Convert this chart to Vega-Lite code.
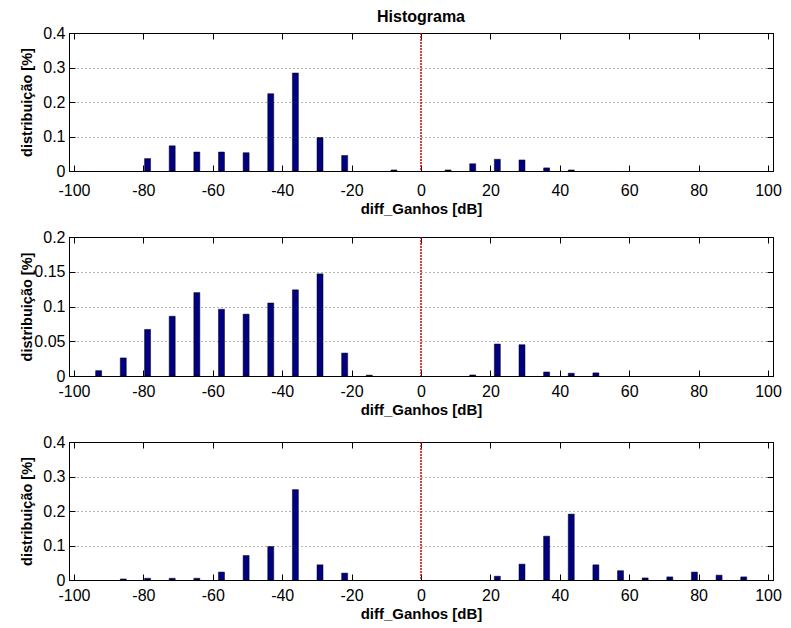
{
  "$schema": "https://vega.github.io/schema/vega-lite/v6.json",
  "autosize": {"type": "pad"},
  "padding": {"left": 18, "top": 8, "right": 12, "bottom": 6},
  "background": "white",
  "spacing": 66,
  "bounds": "flush",
  "datasets": {
    "h1": [
      {"x": -78.8, "p": 0.036}, {"x": -71.7, "p": 0.073}, {"x": -64.6, "p": 0.055}, {"x": -57.5, "p": 0.055},
      {"x": -50.4, "p": 0.053}, {"x": -43.3, "p": 0.224}, {"x": -36.2, "p": 0.284}, {"x": -29.1, "p": 0.097},
      {"x": -22.0, "p": 0.045}, {"x": -7.8, "p": 0.003}, {"x": 7.8, "p": 0.003}, {"x": 14.9, "p": 0.021},
      {"x": 22.0, "p": 0.034}, {"x": 29.1, "p": 0.032}, {"x": 36.2, "p": 0.009}, {"x": 43.3, "p": 0.003}
    ],
    "h2": [
      {"x": -92.9, "p": 0.0077}, {"x": -85.8, "p": 0.026}, {"x": -78.8, "p": 0.067}, {"x": -71.7, "p": 0.086},
      {"x": -64.6, "p": 0.120}, {"x": -57.5, "p": 0.096}, {"x": -50.4, "p": 0.089}, {"x": -43.3, "p": 0.105},
      {"x": -36.2, "p": 0.124}, {"x": -29.1, "p": 0.147}, {"x": -22.0, "p": 0.033}, {"x": -14.9, "p": 0.0012},
      {"x": 14.9, "p": 0.0015}, {"x": 22.0, "p": 0.046}, {"x": 29.1, "p": 0.045}, {"x": 36.2, "p": 0.0058},
      {"x": 43.3, "p": 0.004}, {"x": 50.4, "p": 0.0045}
    ],
    "h3": [
      {"x": -85.8, "p": 0.003}, {"x": -78.8, "p": 0.005}, {"x": -71.7, "p": 0.005}, {"x": -64.6, "p": 0.005},
      {"x": -57.5, "p": 0.023}, {"x": -50.4, "p": 0.071}, {"x": -43.3, "p": 0.097}, {"x": -36.2, "p": 0.262},
      {"x": -29.1, "p": 0.044}, {"x": -22.0, "p": 0.020}, {"x": 22.0, "p": 0.011}, {"x": 29.1, "p": 0.046},
      {"x": 36.2, "p": 0.127}, {"x": 43.3, "p": 0.191}, {"x": 50.4, "p": 0.044}, {"x": 57.5, "p": 0.027},
      {"x": 64.6, "p": 0.006}, {"x": 71.7, "p": 0.009}, {"x": 78.8, "p": 0.023}, {"x": 85.9, "p": 0.014},
      {"x": 93.0, "p": 0.009}
    ]
  },
  "vconcat": [
    {
      "width": 704, "height": 138,
      "title": {"text": "Histograma", "fontSize": 16, "fontWeight": "bold", "font": "Liberation Sans", "color": "black", "anchor": "middle", "frame": "group", "baseline": "alphabetic", "offset": -13},
      "layer": [
        {
          "data": {"name": "h1"},
          "mark": {"type": "bar", "orient": "vertical", "size": 6, "fill": "#000080", "stroke": "#000000", "strokeWidth": 0.5},
          "encoding": {
            "x": {"field": "x", "type": "quantitative", "scale": {"domain": [-100, 100], "nice": false, "zero": false},
              "axis": {"orient": "bottom", "values": [-100, -80, -60, -40, -20, 0, 20, 40, 60, 80, 100], "labelExpr": "'' + datum.value", "ticks": false, "grid": false, "domain": true, "labelBaseline": "alphabetic", "labelPadding": 24, "title": "diff_Ganhos [dB]", "titleY": 42, "titleBaseline": "alphabetic"}},
            "y": {"field": "p", "type": "quantitative", "scale": {"domain": [0, 0.4], "nice": false},
              "axis": {"orient": "left", "values": [0, 0.1, 0.2, 0.3, 0.4], "labelExpr": "'' + datum.value", "ticks": false, "grid": true, "domain": true, "labelPadding": 4, "title": "distribuição [%]", "titleX": -38, "titleBaseline": "alphabetic", "titleFontSize": 14.5}}
          }
        },
        {
          "data": {"values": [{"ref": 0}]},
          "mark": {"type": "rule", "stroke": "#d00000", "strokeDash": [2, 1], "strokeWidth": 1.5},
          "encoding": {
            "x": {"field": "ref", "type": "quantitative", "scale": {"domain": [-100, 100], "nice": false, "zero": false},
              "axis": {"orient": "bottom", "values": [-100, -80, -60, -40, -20, 0, 20, 40, 60, 80, 100], "labels": false, "ticks": true, "tickSize": -6, "domain": false, "grid": false, "title": null}}
          }
        },
        {
          "data": {"name": "h1"},
          "mark": {"type": "point", "opacity": 0},
          "encoding": {
            "x": {"field": "x", "type": "quantitative", "scale": {"domain": [-100, 100], "nice": false, "zero": false},
              "axis": {"orient": "top", "values": [-100, -80, -60, -40, -20, 0, 20, 40, 60, 80, 100], "labels": false, "ticks": true, "tickSize": -6, "domain": true, "grid": false, "title": null}},
            "y": {"field": "p", "type": "quantitative", "scale": {"domain": [0, 0.4], "nice": false},
              "axis": {"orient": "right", "values": [0, 0.1, 0.2, 0.3, 0.4], "labels": false, "ticks": true, "tickSize": -6, "domain": true, "grid": false, "title": null}}
          }
        },
        {
          "data": {"name": "h1"},
          "mark": {"type": "point", "opacity": 0},
          "encoding": {
            "y": {"field": "p", "type": "quantitative", "scale": {"domain": [0, 0.4], "nice": false},
              "axis": {"orient": "left", "values": [0, 0.1, 0.2, 0.3, 0.4], "labels": false, "ticks": true, "tickSize": -6, "domain": false, "grid": false, "title": null}}
          }
        }
      ],
      "resolve": {"axis": {"x": "independent", "y": "independent"}}
    },
    {
      "width": 704, "height": 139,
      "layer": [
        {
          "data": {"name": "h2"},
          "mark": {"type": "bar", "orient": "vertical", "size": 6, "fill": "#000080", "stroke": "#000000", "strokeWidth": 0.5},
          "encoding": {
            "x": {"field": "x", "type": "quantitative", "scale": {"domain": [-100, 100], "nice": false, "zero": false},
              "axis": {"orient": "bottom", "values": [-100, -80, -60, -40, -20, 0, 20, 40, 60, 80, 100], "labelExpr": "'' + datum.value", "ticks": false, "grid": false, "domain": true, "labelBaseline": "alphabetic", "labelPadding": 20, "title": "diff_Ganhos [dB]", "titleY": 38, "titleBaseline": "alphabetic"}},
            "y": {"field": "p", "type": "quantitative", "scale": {"domain": [0, 0.2], "nice": false},
              "axis": {"orient": "left", "values": [0, 0.05, 0.1, 0.15, 0.2], "labelExpr": "'' + datum.value", "ticks": false, "grid": true, "domain": true, "labelPadding": 4, "title": "distribuição [%]", "titleX": -38, "titleBaseline": "alphabetic", "titleFontSize": 14.5}}
          }
        },
        {
          "data": {"values": [{"ref": 0}]},
          "mark": {"type": "rule", "stroke": "#d00000", "strokeDash": [2, 1], "strokeWidth": 1.5},
          "encoding": {
            "x": {"field": "ref", "type": "quantitative", "scale": {"domain": [-100, 100], "nice": false, "zero": false},
              "axis": {"orient": "bottom", "values": [-100, -80, -60, -40, -20, 0, 20, 40, 60, 80, 100], "labels": false, "ticks": true, "tickSize": -6, "domain": false, "grid": false, "title": null}}
          }
        },
        {
          "data": {"name": "h2"},
          "mark": {"type": "point", "opacity": 0},
          "encoding": {
            "x": {"field": "x", "type": "quantitative", "scale": {"domain": [-100, 100], "nice": false, "zero": false},
              "axis": {"orient": "top", "values": [-100, -80, -60, -40, -20, 0, 20, 40, 60, 80, 100], "labels": false, "ticks": true, "tickSize": -6, "domain": true, "grid": false, "title": null}},
            "y": {"field": "p", "type": "quantitative", "scale": {"domain": [0, 0.2], "nice": false},
              "axis": {"orient": "right", "values": [0, 0.05, 0.1, 0.15, 0.2], "labels": false, "ticks": true, "tickSize": -6, "domain": true, "grid": false, "title": null}}
          }
        },
        {
          "data": {"name": "h2"},
          "mark": {"type": "point", "opacity": 0},
          "encoding": {
            "y": {"field": "p", "type": "quantitative", "scale": {"domain": [0, 0.2], "nice": false},
              "axis": {"orient": "left", "values": [0, 0.05, 0.1, 0.15, 0.2], "labels": false, "ticks": true, "tickSize": -6, "domain": false, "grid": false, "title": null}}
          }
        }
      ],
      "resolve": {"axis": {"x": "independent", "y": "independent"}}
    },
    {
      "width": 704, "height": 138,
      "layer": [
        {
          "data": {"name": "h3"},
          "mark": {"type": "bar", "orient": "vertical", "size": 6, "fill": "#000080", "stroke": "#000000", "strokeWidth": 0.5},
          "encoding": {
            "x": {"field": "x", "type": "quantitative", "scale": {"domain": [-100, 100], "nice": false, "zero": false},
              "axis": {"orient": "bottom", "values": [-100, -80, -60, -40, -20, 0, 20, 40, 60, 80, 100], "labelExpr": "'' + datum.value", "ticks": false, "grid": false, "domain": true, "labelBaseline": "alphabetic", "labelPadding": 20, "title": "diff_Ganhos [dB]", "titleY": 38, "titleBaseline": "alphabetic"}},
            "y": {"field": "p", "type": "quantitative", "scale": {"domain": [0, 0.4], "nice": false},
              "axis": {"orient": "left", "values": [0, 0.1, 0.2, 0.3, 0.4], "labelExpr": "'' + datum.value", "ticks": false, "grid": true, "domain": true, "labelPadding": 4, "title": "distribuição [%]", "titleX": -38, "titleBaseline": "alphabetic", "titleFontSize": 14.5}}
          }
        },
        {
          "data": {"values": [{"ref": 0}]},
          "mark": {"type": "rule", "stroke": "#d00000", "strokeDash": [2, 1], "strokeWidth": 1.5},
          "encoding": {
            "x": {"field": "ref", "type": "quantitative", "scale": {"domain": [-100, 100], "nice": false, "zero": false},
              "axis": {"orient": "bottom", "values": [-100, -80, -60, -40, -20, 0, 20, 40, 60, 80, 100], "labels": false, "ticks": true, "tickSize": -6, "domain": false, "grid": false, "title": null}}
          }
        },
        {
          "data": {"name": "h3"},
          "mark": {"type": "point", "opacity": 0},
          "encoding": {
            "x": {"field": "x", "type": "quantitative", "scale": {"domain": [-100, 100], "nice": false, "zero": false},
              "axis": {"orient": "top", "values": [-100, -80, -60, -40, -20, 0, 20, 40, 60, 80, 100], "labels": false, "ticks": true, "tickSize": -6, "domain": true, "grid": false, "title": null}},
            "y": {"field": "p", "type": "quantitative", "scale": {"domain": [0, 0.4], "nice": false},
              "axis": {"orient": "right", "values": [0, 0.1, 0.2, 0.3, 0.4], "labels": false, "ticks": true, "tickSize": -6, "domain": true, "grid": false, "title": null}}
          }
        },
        {
          "data": {"name": "h3"},
          "mark": {"type": "point", "opacity": 0},
          "encoding": {
            "y": {"field": "p", "type": "quantitative", "scale": {"domain": [0, 0.4], "nice": false},
              "axis": {"orient": "left", "values": [0, 0.1, 0.2, 0.3, 0.4], "labels": false, "ticks": true, "tickSize": -6, "domain": false, "grid": false, "title": null}}
          }
        }
      ],
      "resolve": {"axis": {"x": "independent", "y": "independent"}}
    }
  ],
  "config": {
    "view": {"stroke": "#000000", "strokeWidth": 1},
    "axis": {
      "labelFont": "Liberation Sans", "labelFontSize": 16, "labelColor": "#000000",
      "labelFlush": false, "labelOverlap": false, "labelBound": false,
      "titleFont": "Liberation Sans", "titleFontSize": 15, "titleFontWeight": "bold", "titleColor": "#000000",
      "domainColor": "#000000", "domainWidth": 1,
      "tickColor": "#000000", "tickWidth": 1,
      "gridColor": "#000000", "gridDash": [1, 3], "gridWidth": 1, "gridOpacity": 0.6
    }
  }
}
